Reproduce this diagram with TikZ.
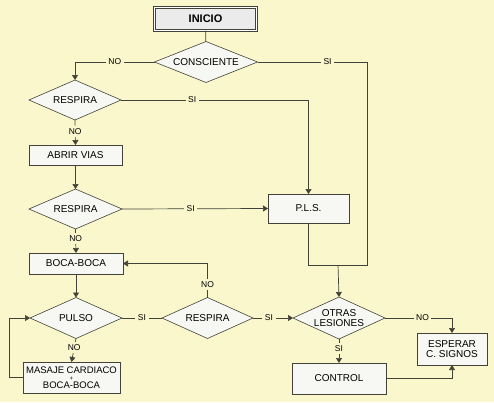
\documentclass[tikz,border=0pt]{standalone}
\usepackage{fontspec}
\setmainfont{Liberation Sans}
\usetikzlibrary{shapes.geometric,arrows.meta}

\definecolor{fondo}{RGB}{250,247,204}
\definecolor{caja}{RGB}{247,247,243}
\definecolor{linea}{RGB}{66,66,56}

\begin{document}
\begin{tikzpicture}[x=1pt,y=-1pt,
	txt/.style={font=\fontsize{10}{11.5}\selectfont,text=black},
	caja/.style={txt,rectangle,draw=linea,fill=caja,line width=0.6pt,inner sep=2pt,outer sep=0pt,align=center},
	rombo/.style={txt,diamond,aspect=2.5,draw=linea,fill=caja,line width=0.6pt,inner sep=0pt,outer sep=0pt,align=center},
	lab/.style={font=\fontsize{8.5}{10}\selectfont,fill=fondo,inner sep=2.5pt},
	linea/.style={draw=linea,line width=0.7pt},
	flecha/.style={linea,-{Triangle[length=5pt,width=6pt]}}]
	\fill[fondo] (0,0) rectangle (494,402);
	\useasboundingbox (0,0) rectangle (494,402);
	% nodos
	\node[caja,fill=black!8,double=white,double distance=1.4pt,minimum width=102pt,minimum height=23pt,font=\fontsize{11}{13}\bfseries] (inicio) at (205.5,19) {INICIO};
	\node[rombo,minimum width=103pt,minimum height=41pt] (consciente) at (206,62) {CONSCIENTE};
	\node[rombo,minimum width=92pt,minimum height=40pt] (respira1) at (75,100) {RESPIRA};
	\node[caja,minimum width=93pt,minimum height=20pt] (abrir) at (75.5,155) {ABRIR VIAS};
	\node[rombo,minimum width=93pt,minimum height=40pt] (respira2) at (75.5,209) {RESPIRA};
	\node[caja,minimum width=81pt,minimum height=29pt] (pls) at (308.5,208.5) {P.L.S.};
	\node[caja,minimum width=94pt,minimum height=21pt] (boca) at (76,263.5) {BOCA-BOCA};
	\node[rombo,minimum width=92pt,minimum height=41pt] (pulso) at (76,318) {PULSO};
	\node[rombo,minimum width=91pt,minimum height=41pt] (respira3) at (207.5,318) {RESPIRA};
	\node[rombo,minimum width=92pt,minimum height=42pt] (otras) at (339,318) {OTRAS\\[-2pt]LESIONES};
	\node[caja,minimum width=70pt,minimum height=32pt] (esperar) at (452,349) {ESPERAR\\[-2pt]C. SIGNOS};
	\node[caja,minimum width=94pt,minimum height=31pt] (control) at (339,378.5) {CONTROL};
	\node[caja,minimum width=97pt,minimum height=31pt,inner sep=1pt,font=\fontsize{9.5}{11}\selectfont] (masaje) at (71.5,377.5) {MASAJE CARDIACO\\[-4pt]{\fontsize{6}{6}\selectfont +}\\[-3pt]BOCA-BOCA};
	\coordinate (esq) at (367,265);
	\coordinate (union) at (338,265);
	% conectores
	\draw[linea] (inicio) -- (consciente);
	\draw[flecha] (consciente.west) -| node[lab,pos=0.25]{NO} (respira1.north);
	\draw[linea] (consciente.east) -| node[lab,pos=0.32]{SI} (esq) -- (union);
	\draw[linea] (pls.south) |- (union);
	\draw[flecha] (union) -- (otras.north);
	\draw[flecha] (respira1.east) -| node[lab,pos=0.19]{SI} (pls.north);
	\draw[flecha] (respira1.south) -- node[lab,pos=0.45]{NO} (abrir.north);
	\draw[flecha] (abrir.south) -- (respira2.north);
	\draw[flecha] (respira2.east) -- node[lab,pos=0.47]{SI} (pls.west);
	\draw[flecha] (respira2.south) -- node[lab,pos=0.4]{NO} (boca.north);
	\draw[flecha] (boca.south) -- (pulso.north);
	\draw[flecha] (pulso.south) -- node[lab,pos=0.4]{NO} (masaje.north);
	\draw[flecha] (masaje.west) -- ++(-14,0) |- (pulso.west);
	\draw[linea] (pulso.east) -- node[lab]{SI} (respira3.west);
	\draw[flecha] (respira3.north) |- node[lab,pos=0.19]{NO} (boca.east);
	\draw[flecha] (respira3.east) -- node[lab,pos=0.4]{SI} (otras.west);
	\draw[flecha] (otras.east) -| node[lab,pos=0.28]{NO} (esperar.north);
	\draw[flecha] (otras.south) -- node[lab,pos=0.4]{SI} (control.north);
	\draw[flecha] (control.east) -| (esperar.south);
\end{tikzpicture}
\end{document}
